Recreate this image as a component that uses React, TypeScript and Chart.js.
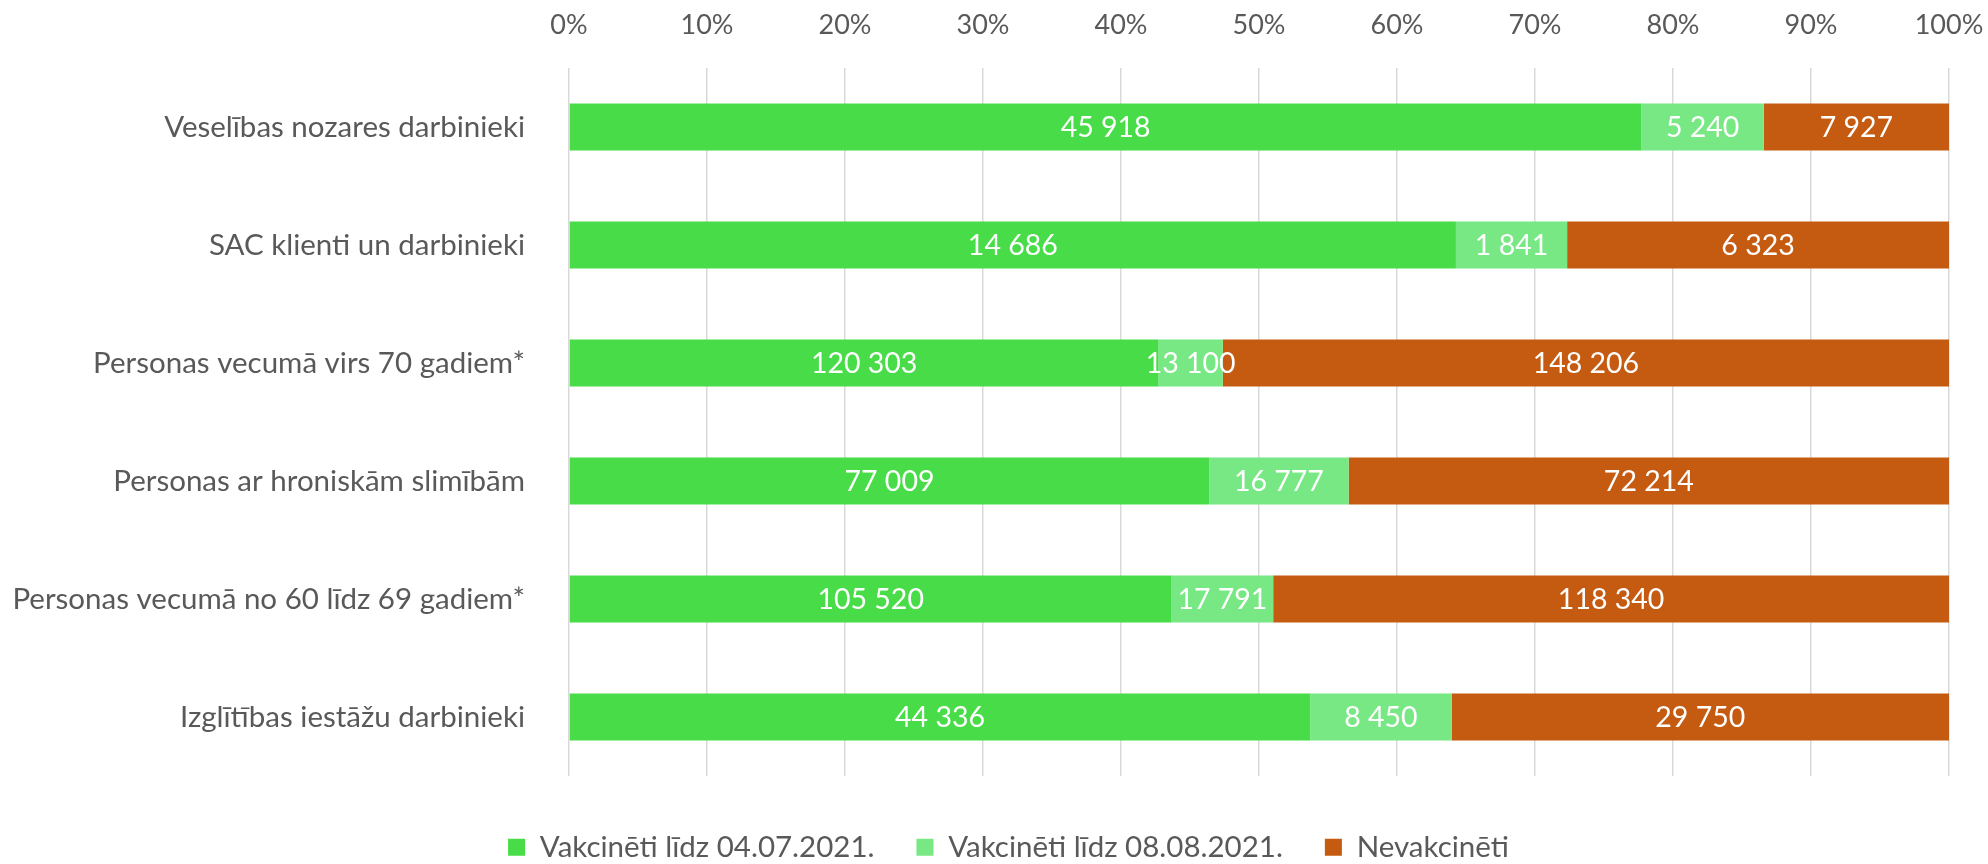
import React, { useEffect, useRef } from "react";
import { Chart, registerables } from "chart.js";

Chart.register(...registerables);

const categories = [
  "Veselības nozares darbinieki",
  "SAC klienti un darbinieki",
  "Personas vecumā virs 70 gadiem*",
  "Personas ar hroniskām slimībām",
  "Personas vecumā no 60 līdz 69 gadiem*",
  "Izglītības iestāžu darbinieki",
];

const seriesNames = ["Vakcinēti līdz 04.07.2021.", "Vakcinēti līdz 08.08.2021.", "Nevakcinēti"];
const vaccinatedJul = [45918, 14686, 120303, 77009, 105520, 44336];
const vaccinatedAug = [5240, 1841, 13100, 16777, 17791, 8450];
const unvaccinated = [7927, 6323, 148206, 72214, 118340, 29750];
const colors = ["#48DD48", "#77E883", "#C55A11"];
const xTicks = [0, 10, 20, 30, 40, 50, 60, 70, 80, 90, 100];

const FONT = "Lato, 'Noto Sans', sans-serif";
const GRAY = "#595959";

const fmt = (v: number) => String(v).replace(/\B(?=(\d{3})+(?!\d))/g, " ");

export default function App() {
  const ref = useRef<HTMLCanvasElement | null>(null);
  useEffect(() => {
    if (!ref.current) return;
    const raw = [vaccinatedJul, vaccinatedAug, unvaccinated];
    const totals = categories.map((_, i) => raw.reduce((s, a) => s + a[i], 0));
    const pct = raw.map((a) => a.map((v, i) => (v / totals[i]) * 100));

    const labelPlugin = {
      id: "valueLabels",
      afterDatasetsDraw(chart: any) {
        const ctx = chart.ctx;
        ctx.save();
        ctx.fillStyle = "#FFFFFF";
        ctx.font = `28.5px ${FONT}`;
        ctx.textAlign = "center";
        ctx.textBaseline = "middle";
        chart.data.datasets.forEach((ds: any, di: number) => {
          const meta = chart.getDatasetMeta(di);
          meta.data.forEach((el: any, i: number) => {
            const cx = (el.x + el.base) / 2;
            ctx.fillText(fmt(raw[di][i]), cx, el.y + 1);
          });
        });
        ctx.restore();
      },
    };

    const legendShift = {
      id: "legendShift",
      afterLayout(chart: any) {
        if (chart.legend) {
          chart.legend.left += 34;
          chart.legend.right += 34;
        }
      },
    };

    const chart = new Chart(ref.current, {
      type: "bar",
      data: {
        labels: categories,
        datasets: seriesNames.map((name, k) => ({
          label: name,
          data: pct[k],
          backgroundColor: colors[k],
          borderWidth: 0,
          categoryPercentage: 1,
          barPercentage: 0.4,
        })),
      },
      options: {
        indexAxis: "y",
        responsive: false,
        animation: false,
        layout: { padding: { left: 0, right: 39, top: 0, bottom: 0 } },
        plugins: {
          tooltip: { enabled: false },
          legend: {
            position: "bottom",
            labels: {
              boxWidth: 17,
              boxHeight: 17,
              padding: 42,
              color: GRAY,
              font: { family: FONT, size: 29.5 },
            },
          },
        },
        scales: {
          x: {
            position: "top",
            stacked: true,
            min: 0,
            max: 100,
            afterBuildTicks: (s: any) => {
              s.ticks = xTicks.map((v) => ({ value: v }));
            },
            afterFit: (s: any) => {
              s.height = 68;
            },
            ticks: {
              color: GRAY,
              padding: 0,
              font: { family: FONT, size: 27, lineHeight: 86 / 27 },
              callback: (v: any) => v + "%",
              maxRotation: 0,
            },
            grid: { color: "#D9D9D9", lineWidth: 1.5, drawTicks: false },
            border: { display: false },
          },
          xb: {
            type: "linear",
            axis: "x",
            position: "bottom",
            display: true,
            afterFit: (s: any) => {
              s.height = 14.5;
            },
            ticks: { display: false },
            grid: { display: false, drawTicks: false },
            border: { display: false },
          },
          y: {
            stacked: true,
            afterFit: (s: any) => {
              s.width = 569;
            },
            ticks: {
              color: GRAY,
              padding: 36,
              font: { family: FONT, size: 29.5 },
            },
            grid: { display: false },
            border: { display: false },
          },
        },
      },
      plugins: [labelPlugin, legendShift],
    } as any);
    return () => chart.destroy();
  }, []);

  return (
    <div style={{ position: "fixed", left: 0, top: 0, width: 1988, height: 864, overflow: "hidden", background: "#fff" }}>
      <canvas ref={ref} width={1988} height={872} style={{ display: "block" }} />
    </div>
  );
}
